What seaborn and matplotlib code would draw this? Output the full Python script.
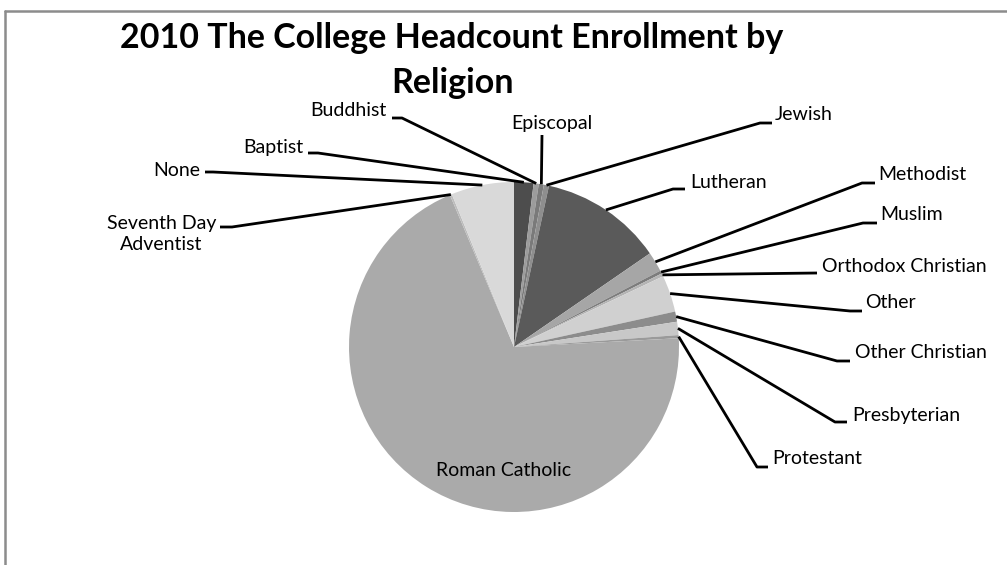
import numpy as np
import seaborn as sns
import matplotlib.pyplot as plt

sns.set_theme(style="white")
plt.rcParams['font.family'] = ['Lato', 'DejaVu Sans']

# data: share of headcount (%) by religion, clockwise from 12 o'clock
religions = ["Baptist", "Buddhist", "Episcopal", "Jewish", "Lutheran", "Methodist",
             "Muslim", "Orthodox Christian", "Other", "Other Christian", "Presbyterian",
             "Protestant", "Roman Catholic", "Seventh Day\nAdventist", "None"]
shares = [1.9, 0.5, 0.5, 0.5, 12.0, 1.95, 0.3, 0.3, 3.6, 1.0, 1.3, 0.3, 69.5, 0.2, 6.15]
greys = ["#4d4d4d", "#9c9c9c", "#7a7a7a", "#8e8e8e", "#5a5a5a", "#a6a6a6", "#7c7c7c",
         "#b4b4b4", "#d0d0d0", "#8c8c8c", "#c8c8c8", "#9a9a9a", "#aaaaaa", "#bcbcbc",
         "#d9d9d9"]

W, H = 1007, 565
fig = plt.figure(figsize=(W / 100, H / 100), dpi=100)
ax = fig.add_axes([0, 0, 1, 1])


def py(y):
    # pixel row -> data y
    return H - y


cx, cy, r = 514, py(347), 165
wedges, _ = ax.pie(shares, colors=greys, startangle=90, counterclock=False,
                   center=(cx, cy), radius=r, frame=True,
                   wedgeprops=dict(linewidth=0))
ax.set_xlim(0, W)
ax.set_ylim(0, H)
ax.set_aspect("equal")
ax.axis("off")

# label layout: text anchor, alignment, elbow point, end point (pixel coords)
layout = {
    "Baptist": ((303, 147), "right", (318, 153), (308, 153)),
    "Buddhist": ((386, 110), "right", (402, 118), (392, 118)),
    "Episcopal": ((552, 123), "center", (542, 135), (542, 135)),
    "Jewish": ((775, 115), "left", (760, 123), (772, 123)),
    "Lutheran": ((690, 183), "left", (673, 189), (685, 189)),
    "Methodist": ((878, 175), "left", (862, 183), (875, 183)),
    "Muslim": ((880, 215), "left", (863, 223), (877, 223)),
    "Orthodox Christian": ((822, 266), "left", (817, 273), (817, 273)),
    "Other": ((865, 303), "left", (850, 311), (862, 311)),
    "Other Christian": ((855, 353), "left", (837, 361), (850, 361)),
    "Presbyterian": ((852, 415), "left", (835, 422), (847, 422)),
    "Protestant": ((772, 459), "left", (757, 467), (768, 467)),
    "Seventh Day\nAdventist": ((216, 234), "right", (232, 227), (220, 227)),
    "None": ((200, 170), "right", (213, 172), (205, 172)),
}

for w, name in zip(wedges, religions):
    if name == "Roman Catholic":
        ax.text(504, py(470), name, ha="center", va="center", fontsize=14, color="black")
        continue
    (tx, ty), ha, elbow, end = layout[name]
    mid = np.deg2rad((w.theta1 + w.theta2) / 2)
    sx, sy = cx + r * np.cos(mid), cy + r * np.sin(mid)
    ax.plot([sx, elbow[0], end[0]], [sy, py(elbow[1]), py(end[1])],
            color="black", lw=2, solid_capstyle="butt", zorder=3)
    ax.text(tx, py(ty), name, ha=ha, va="center", fontsize=14, color="black",
            multialignment="center", linespacing=1.3)

# title
ax.text(452, py(38), "2010 The College Headcount Enrollment by", ha="center", va="center",
        fontsize=24.5, fontweight="bold", color="black")
ax.text(452, py(83), "Religion", ha="center", va="center",
        fontsize=24.5, fontweight="bold", color="black")

# chart area frame (only top and left edges visible)
ax.plot([5, W], [py(11), py(11)], color="#8c8c8c", lw=1.8, clip_on=False)
ax.plot([5, 5], [py(11), 0], color="#8c8c8c", lw=1.8, clip_on=False)

fig.savefig("out.png", dpi=100, facecolor="white")
